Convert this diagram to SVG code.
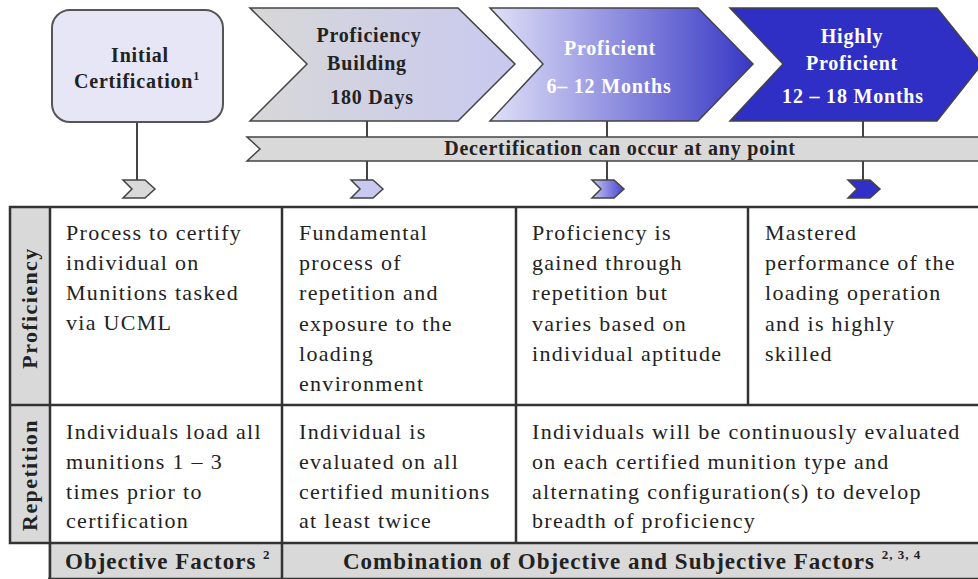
<svg xmlns="http://www.w3.org/2000/svg" width="978" height="579" viewBox="0 0 978 579">
<defs>
<linearGradient id="g1" x1="0" y1="0" x2="1" y2="0"><stop offset="0" stop-color="#d8d8d8"/><stop offset="1" stop-color="#c8c8f0"/></linearGradient>
<linearGradient id="g2" x1="0" y1="0" x2="1" y2="0"><stop offset="0" stop-color="#e0e0f8"/><stop offset="1" stop-color="#3838c6"/></linearGradient>
<linearGradient id="g3" x1="0" y1="0" x2="1" y2="0"><stop offset="0" stop-color="#c8c8f0"/><stop offset="1" stop-color="#4444d0"/></linearGradient>
<style>
text{font-family:'Liberation Serif','Times New Roman',serif}
.st{stroke:#444;stroke-width:1.5}
.hd{font-weight:bold;font-size:20px;text-anchor:middle;letter-spacing:0.8px}
.bk{fill:#222}
.wh{fill:#fff}
.bd{font-size:22px;fill:#222;letter-spacing:1.3px}
.rh{font-weight:bold;font-size:22px;fill:#222;text-anchor:middle;letter-spacing:1.4px}
.ft{font-weight:bold;font-size:23px;fill:#222;letter-spacing:1px}
.ln{stroke:#444;stroke-width:2;fill:none}
.tb{stroke:#333;stroke-width:2.5;fill:none}
</style>
</defs>
<rect width="978" height="579" fill="#fff"/>

<g id="connectors">
<line class="ln" x1="137" y1="122" x2="137" y2="181"/>
<line class="ln" x1="367" y1="121" x2="367" y2="137"/>
<line class="ln" x1="367" y1="161" x2="367" y2="181"/>
<line class="ln" x1="607" y1="121" x2="607" y2="137"/>
<line class="ln" x1="607" y1="161" x2="607" y2="181"/>
<line class="ln" x1="863" y1="121" x2="863" y2="137"/>
<line class="ln" x1="863" y1="161" x2="863" y2="181"/>
<polygon class="st" fill="#d9d9d9" points="123,180 145,180 155,189 145,198 123,198 132,189"/>
<polygon class="st" fill="#c8c8f0" points="351,180 373,180 383,189 373,198 351,198 360,189"/>
<polygon class="st" fill="url(#g3)" points="592,180 614,180 624,189 614,198 592,198 601,189"/>
<polygon class="st" fill="#3030c8" points="848,180 870,180 880,189 870,198 848,198 857,189"/>
</g>

<g id="initial">
<rect x="52" y="10" width="171" height="112" rx="18" fill="#e6e6f7" stroke="#555" stroke-width="2"/>
<text class="hd bk" x="140" y="62">Initial</text>
<text class="hd bk" x="137" y="88">Certification<tspan font-size="12" dy="-8">1</tspan></text>
</g>

<g id="building">
<polygon class="st" fill="url(#g1)" points="250,8 458,8 515,64 458,121 250,121 307,64"/>
<text class="hd bk" x="369" y="42">Proficiency</text>
<text class="hd bk" x="367" y="70">Building</text>
<text class="hd bk" x="372" y="104">180 Days</text>
</g>

<g id="proficient">
<polygon class="st" fill="url(#g2)" points="490,8 698,8 753,64 698,121 490,121 543,64"/>
<text class="hd wh" x="610" y="55">Proficient</text>
<text class="hd wh" x="609" y="93">6– 12 Months</text>
</g>

<g id="highly">
<polygon class="st" fill="#2f2fc5" points="730,8 937,8 982,64 937,121 730,121 783,64"/>
<text class="hd wh" x="852" y="43">Highly</text>
<text class="hd wh" x="852" y="70">Proficient</text>
<text class="hd wh" x="853" y="103">12 – 18 Months</text>
</g>

<g id="decert">
<polygon class="st" fill="#d9d9d9" points="247,137 982,137 982,161 247,161 260,149"/>
<text class="hd bk" x="620" y="155" font-size="18">Decertification can occur at any point</text>
</g>

<g id="table">
<rect x="10" y="207" width="40" height="336" fill="#d9d9d9"/>
<rect x="48" y="543" width="932" height="36" fill="#d9d9d9"/>
<rect class="tb" x="10" y="207" width="972" height="336"/>
<line class="tb" x1="50" y1="207" x2="50" y2="579"/>
<line class="tb" x1="282" y1="207" x2="282" y2="579"/>
<line class="tb" x1="516" y1="207" x2="516" y2="543"/>
<line class="tb" x1="748" y1="207" x2="748" y2="405"/>
<line class="tb" x1="10" y1="405" x2="980" y2="405"/>
<line class="tb" x1="48" y1="579" x2="980" y2="579"/>
<text class="rh" transform="translate(37,308) rotate(-90)">Proficiency</text>
<text class="rh" transform="translate(37,475) rotate(-90)">Repetition</text>

<text class="bd"><tspan x="66" y="240">Process to certify</tspan><tspan x="66" y="270">individual on</tspan><tspan x="66" y="300">Munitions tasked</tspan><tspan x="66" y="330">via UCML</tspan></text>
<text class="bd"><tspan x="299" y="240">Fundamental</tspan><tspan x="299" y="270">process of</tspan><tspan x="299" y="300">repetition and</tspan><tspan x="299" y="331">exposure to the</tspan><tspan x="299" y="361">loading</tspan><tspan x="299" y="391">environment</tspan></text>
<text class="bd"><tspan x="532" y="240">Proficiency is</tspan><tspan x="532" y="270">gained through</tspan><tspan x="532" y="300">repetition but</tspan><tspan x="532" y="331">varies based on</tspan><tspan x="532" y="361">individual aptitude</tspan></text>
<text class="bd"><tspan x="765" y="240">Mastered</tspan><tspan x="765" y="270">performance of the</tspan><tspan x="765" y="300">loading operation</tspan><tspan x="765" y="331">and is highly</tspan><tspan x="765" y="361">skilled</tspan></text>

<text class="bd"><tspan x="66" y="439">Individuals load all</tspan><tspan x="66" y="469">munitions 1 – 3</tspan><tspan x="66" y="499">times prior to</tspan><tspan x="66" y="528">certification</tspan></text>
<text class="bd"><tspan x="299" y="439">Individual is</tspan><tspan x="299" y="469">evaluated on all</tspan><tspan x="299" y="499">certified munitions</tspan><tspan x="299" y="528">at least twice</tspan></text>
<text class="bd"><tspan x="532" y="439">Individuals will be continuously evaluated</tspan><tspan x="532" y="469">on each certified munition type and</tspan><tspan x="532" y="499">alternating configuration(s) to develop</tspan><tspan x="532" y="528">breadth of proficiency</tspan></text>

<text class="ft" x="65" y="569">Objective Factors <tspan font-size="13" dy="-10">2</tspan></text>
<text class="ft" x="343" y="569">Combination of Objective and Subjective Factors <tspan font-size="13" dy="-10">2, 3, 4</tspan></text>
</g>
</svg>
